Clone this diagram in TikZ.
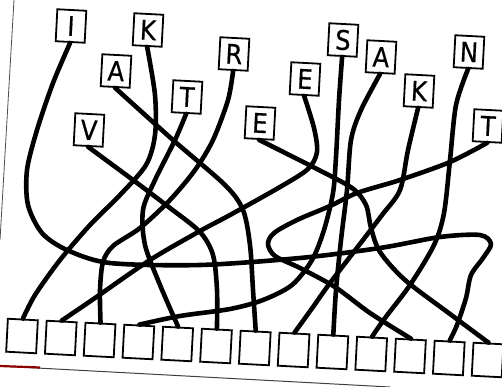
\documentclass[tikz,border=0pt]{standalone}
\usepackage{fontspec}
\newfontfamily\boxfont[FakeBold=0.6]{DejaVu Sans Condensed}
\begin{document}
\begin{tikzpicture}[x=1pt,y=-1pt,
  letterbox/.style={draw,line width=1.8pt,minimum width=29pt,minimum height=32pt,inner sep=0pt,rotate=-3,font=\boxfont\fontsize{27}{27}\selectfont},
  answerbox/.style={draw,line width=1.8pt,minimum width=30pt,minimum height=33pt,inner sep=0pt,rotate=-3},
  wire/.style={line width=4.6pt,line cap=round,line join=round}]
  \useasboundingbox (0,0) rectangle (502,387);
  % page edges
  \draw[gray!60!black,line width=0.8pt] (14,0) -- (0,240);
  \draw[gray!50!black,line width=1pt] (0,366) -- (390,387);
  \draw[red!55!black,line width=2.2pt] (0,366) -- (40,367.5);
  % letters
  \node[letterbox] (t1) at (71,26) {I};
  \node[letterbox] (t2) at (148,30) {K};
  \node[letterbox] (t3) at (116,71) {A};
  \node[letterbox] (t4) at (234,54) {R};
  \node[letterbox] (t5) at (187,97) {T};
  \node[letterbox] (t6) at (89,130) {V};
  \node[letterbox] (t7) at (260,123) {E};
  \node[letterbox] (t8) at (305,79) {E};
  \node[letterbox] (t9) at (343,40) {S};
  \node[letterbox] (t10) at (381,57) {A};
  \node[letterbox] (t11) at (419,91) {K};
  \node[letterbox] (t12) at (469,52) {N};
  \node[letterbox] (t13) at (488,126) {T};
  % empty boxes
  \foreach \i in {1,...,13}
    \node[answerbox] (b\i) at ({22+38.8*(\i-1)},{336+2*(\i-1)}) {};
  % wires
  \draw[wire] plot[smooth] coordinates {(t1.south) (53,83) (37,130) (27,170) (28,205) (42,233) (67,250) (110,263) (200,265) (300,258) (380,248) (440,237) (480,235) (491,244) (483,258) (471,275) (466,298) (457,325) (b12.north)};
  \draw[wire] plot[smooth] coordinates {(t2.south) (155,95) (155,135) (146,165) (120,195) (90,225) (60,260) (35,295) (b1.north)};
  \draw[wire] plot[smooth] coordinates {(t3.south) (173,140) (225,185) (243,210) (250,245) (253,290) (b7.north)};
  \draw[wire] plot[smooth] coordinates {(t4.south) (228,100) (213,140) (195,170) (170,200) (140,228) (113,246) (103,262) (100,290) (b3.north)};
  \draw[wire] plot[smooth] coordinates {(t5.south) (175,140) (155,180) (143,210) (145,245) (160,285) (b5.north)};
  \draw[wire] plot[smooth] coordinates {(t6.south) (133,180) (170,208) (200,232) (213,255) (217,290) (b6.north)};
  \draw[wire] plot[smooth] coordinates {(t7.south) (313,167) (352,188) (366,205) (371,228) (380,252) (405,280) (450,314) (b13.north)};
  \draw[wire] plot[smooth] coordinates {(t8.south) (314,128) (317,152) (308,169) (280,187) (230,215) (200,231) (150,260) (95,298) (b2.north)};
  \draw[wire] plot[smooth] coordinates {(t9.south) (339,100) (336,157) (333,193) (324,230) (312,260) (292,285) (263,300) (230,309) (180,316) (b4.north)};
  \draw[wire] plot[smooth] coordinates {(t10.south) (361,110) (351,140) (347,190) (341,240) (336,290) (b9.north)};
  \draw[wire] plot[smooth] coordinates {(t11.south) (408,150) (400,190) (382,215) (363,240) (330,283) (313,307) (b8.north)};
  \draw[wire] plot[smooth] coordinates {(t12.south) (456,105) (450,160) (444,213) (434,245) (410,285) (385,318) (b10.north)};
  \draw[wire] plot[smooth] coordinates {(t13.south) (450,162) (400,180) (357,193) (330,206) (297,220) (274,233) (268,244) (275,256) (300,268) (335,287) (370,313) (b11.north)};
\end{tikzpicture}
\end{document}
